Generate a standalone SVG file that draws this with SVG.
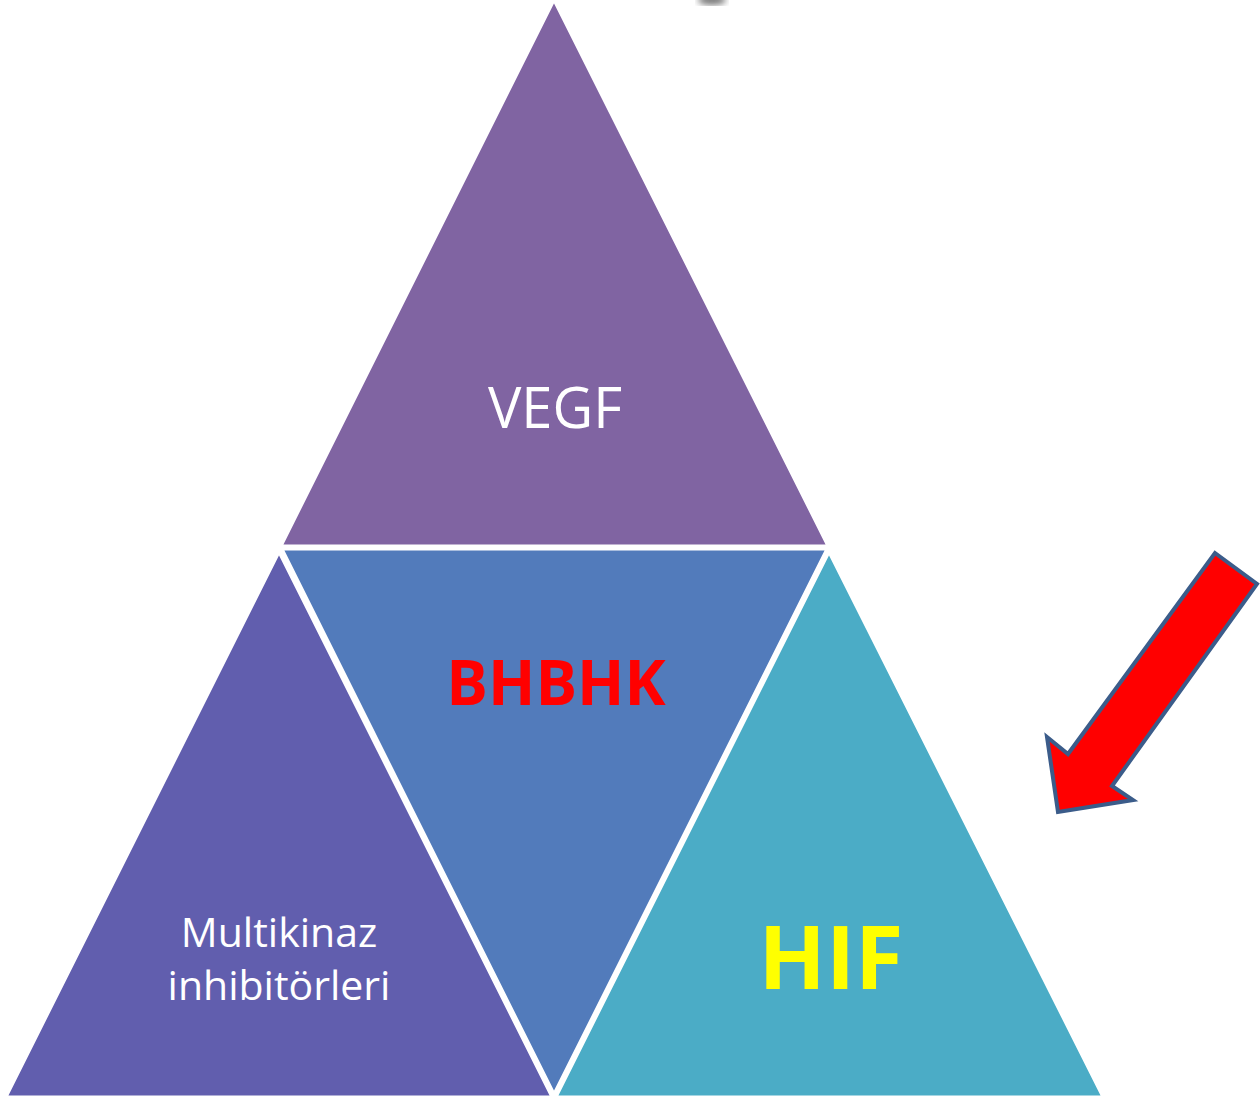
<svg xmlns="http://www.w3.org/2000/svg" width="1260" height="1099" viewBox="0 0 1260 1099">
<style>
.tri{stroke:#ffffff;stroke-width:3;stroke-linejoin:miter}
.lbl{font-family:"Open Sans","Liberation Sans",sans-serif;text-anchor:middle}
</style>
<defs><filter id="bl"><feGaussianBlur stdDeviation="3"/></filter></defs>
<rect width="1260" height="1099" fill="#ffffff"/>
<ellipse cx="712" cy="0" rx="14" ry="5" fill="#777" filter="url(#bl)"/>
<g id="vegf">
<polygon class="tri" points="554,0 828,546 281,546" fill="#8064A2"/>
<text class="lbl" x="555" y="428" font-size="56" fill="#ffffff">VEGF</text>
</g>
<g id="bhbhk">
<polygon class="tri" points="282,549 827,549 554,1094" fill="#527BBB"/>
<text class="lbl" x="556" y="705" font-size="62" font-weight="bold" fill="#FF0000">BHBHK</text>
</g>
<g id="multikinaz">
<polygon class="tri" points="279,552 552,1097 6,1097" fill="#615EAE"/>
<text class="lbl" x="279" y="947" font-size="41" fill="#ffffff">Multikinaz</text>
<text class="lbl" x="279" y="1000" font-size="41" fill="#ffffff">inhibitörleri</text>
</g>
<g id="hif">
<polygon class="tri" points="829,552 1103,1097 556,1097" fill="#4BACC6"/>
<text class="lbl" x="831" y="989" font-size="88" font-weight="bold" fill="#FFFF00">HIF</text>
</g>
<g id="connectors">
<polygon points="1215,553 1257,584 1112,786 1133,800 1058,812 1047,737 1068,754" fill="#FF0000" stroke="#3B5C8A" stroke-width="4" stroke-linejoin="miter"/>
</g>
</svg>
